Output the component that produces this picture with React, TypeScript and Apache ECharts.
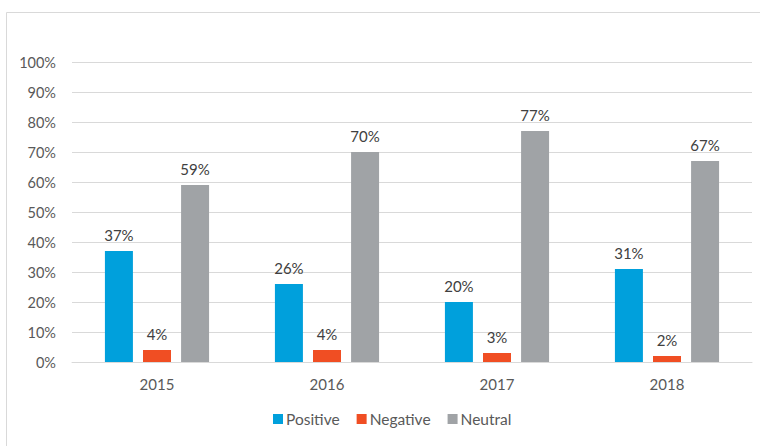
import React, { useEffect, useRef } from "react";
import * as echarts from "echarts";

const categories = ["2015", "2016", "2017", "2018"];
const positive = [37, 26, 20, 31];
const negative = [4, 4, 3, 2];
const neutral = [59, 70, 77, 67];

const FONT = "Lato";

export default function App() {
  const ref = useRef<HTMLDivElement>(null);
  useEffect(() => {
    if (!ref.current) return;
    const chart = echarts.init(ref.current, undefined, { renderer: "svg" });
    const label = {
      show: true,
      position: "top" as const,
      formatter: "{c}%",
      color: "#404040",
      fontSize: 15,
      fontFamily: FONT,
      distance: 9,
    };
    const mk = (name: string, data: number[], color: string) => ({
      name,
      type: "bar" as const,
      data,
      barWidth: 28,
      barGap: "36%",
      itemStyle: { color },
      label,
    });
    chart.setOption({
      animation: false,
      backgroundColor: "#ffffff",
      textStyle: { fontFamily: FONT },
      graphic: [
        {
          type: "rect",
          shape: { x: 6.5, y: 12.5, width: 800, height: 500 },
          style: { fill: "none", stroke: "#d9d9d9", lineWidth: 1 },
          silent: true,
        },
      ],
      grid: { left: 72, right: 8, top: 62, bottom: 84 },
      legend: {
        bottom: 14,
        left: 268,
        itemWidth: 10,
        itemHeight: 10,
        itemGap: 17,
        icon: "rect",
        textStyle: { color: "#595959", fontSize: 15.5, fontFamily: FONT, padding: [0, 0, 0, -2] },
        data: ["Positive", "Negative", "Neutral"],
      },
      xAxis: {
        type: "category",
        data: categories,
        axisLine: { show: true, lineStyle: { color: "#d9d9d9", width: 1 } },
        axisTick: { show: false },
        axisLabel: { color: "#595959", fontSize: 15, fontFamily: FONT, margin: 14 },
      },
      yAxis: {
        type: "value",
        min: 0,
        max: 100,
        interval: 10,
        axisLine: { show: false },
        axisTick: { show: false },
        axisLabel: { formatter: "{value}%", color: "#595959", fontSize: 14.5, fontFamily: FONT, margin: 16 },
        splitLine: { lineStyle: { color: "#d9d9d9", width: 1 } },
      },
      series: [
        mk("Positive", positive, "#00A0DC"),
        mk("Negative", negative, "#F04E23"),
        mk("Neutral", neutral, "#A0A3A6"),
      ],
    });
    return () => chart.dispose();
  }, []);
  return (
    <div
      ref={ref}
      style={{ position: "fixed", left: 0, top: 0, width: 760, height: 446 }}
    />
  );
}
